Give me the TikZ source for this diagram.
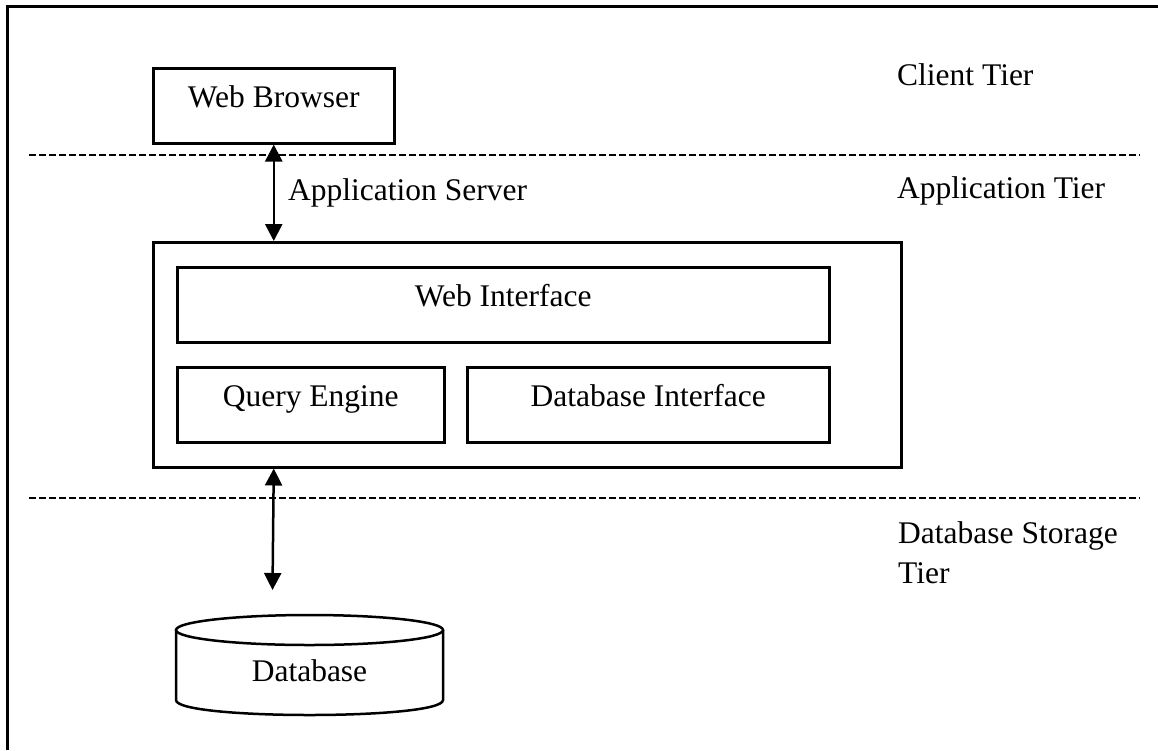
\documentclass[tikz,border=0pt]{standalone}
\usepackage{fontspec}
\setmainfont{Liberation Serif}
\usetikzlibrary{arrows.meta}
\begin{document}
\begin{tikzpicture}[x=1pt,y=-1pt,
  font=\fontsize{31.5}{40}\selectfont,
  box/.style={draw, line width=2.5pt, inner sep=0pt, anchor=north west, text height=0.7em, text depth=0.3em},
  tier/.style={anchor=base west, inner sep=0pt},
  dline/.style={line width=2.5pt, dash pattern=on 7pt off 3pt},
  biarrow/.style={line width=2.5pt, {Triangle[length=17pt,width=17pt]}-{Triangle[length=17pt,width=17pt]}},
  cyl/.style={line width=2.5pt}]
\useasboundingbox (0,0) rectangle (1158,750);
% frame
\draw[line width=3pt] (7,750) -- (7,6) -- (1158,6);
% tier separators
\coordinate (d1a) at (29,155); \coordinate (d1b) at (1140,155);
\coordinate (d2a) at (29,498); \coordinate (d2b) at (1140,498);
\draw[dline] (d1a) -- (d1b);
\draw[dline] (d2a) -- (d2b);
% boxes
\node[box, minimum width=241pt, minimum height=75pt] (wb) at (152,67) {Web Browser};
\node[draw, line width=2.5pt, anchor=north west, minimum width=748pt, minimum height=225pt, inner sep=0pt] (app) at (152,241) {};
\node[box, minimum width=652pt, minimum height=75pt] (wi) at (176,266) {Web Interface};
\node[box, minimum width=267pt, minimum height=75pt] (qe) at (176,366) {Query Engine};
\node[box, minimum width=362pt, minimum height=75pt] (di) at (466,366) {Database Interface};
% database cylinder
\draw[cyl] (176,630) -- (176,700) .. controls (176,720) and (443,720) .. (443,700) -- (443,630);
\draw[cyl] (309.5,630) ellipse [x radius=133.5pt, y radius=15pt];
\node[anchor=base, inner sep=0pt] (db) at (309.5,681) {Database};
% labels
\node[tier] (as) at (288,200) {Application Server};
\node[tier] (ct) at (897,85) {Client Tier};
\node[tier] (at) at (897,198) {Application Tier};
\node[anchor=north west, inner sep=0pt, align=left] (dt) at (898,521) {Database Storage\\Tier};
% arrows
\coordinate (a2end) at (272.5,590);
\draw[biarrow] (wb.south) -- (wb.south |- app.north);
\draw[biarrow] (app.south -| wb.south) -- (a2end);
\end{tikzpicture}
\end{document}
